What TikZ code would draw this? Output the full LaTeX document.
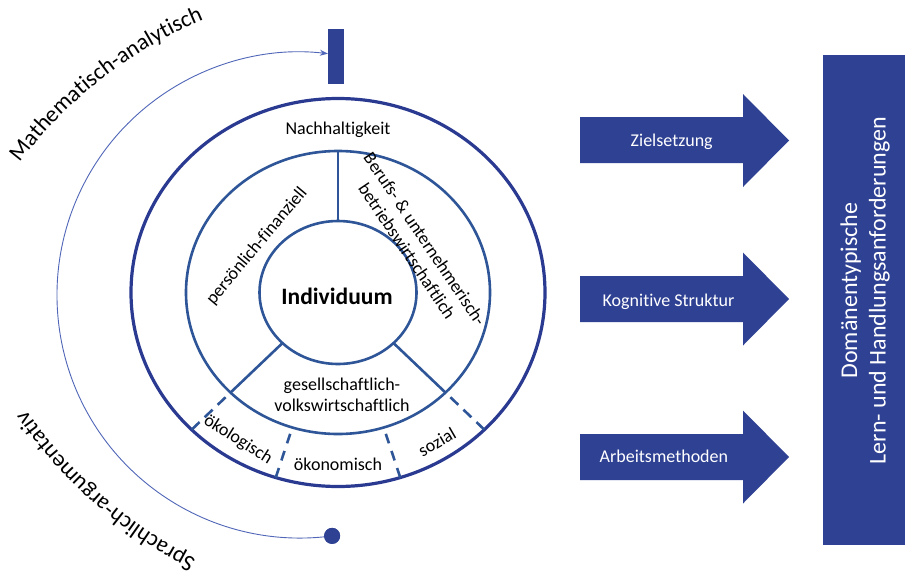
\documentclass[tikz,border=0pt]{standalone}
\usepackage{fontspec}
\setmainfont{Carlito}[Ligatures=CommonOff]
\usetikzlibrary{arrows.meta,decorations.text}
\definecolor{fillblue}{RGB}{47,65,147}
\definecolor{outerblue}{RGB}{42,58,145}
\definecolor{ringblue}{RGB}{46,85,151}
\definecolor{arcblue}{RGB}{80,102,184}
\newcommand\ringfont{\fontsize{18}{21.5}\selectfont}
\newcommand\arrowfont{\fontsize{18}{21}\selectfont}
\newcommand\arcfont{\fontsize{23}{27}\selectfont}
\newcommand\bigfont{\fontsize{24}{28.5}\selectfont}
\newcommand\corefont{\fontsize{23.5}{27}\selectfont\bfseries}
\begin{document}
\begin{tikzpicture}[x=1pt,y=-1pt,
  ringline/.style={draw=ringblue, line width=2.6pt},
  outerline/.style={draw=outerblue, line width=3.2pt},
  sepdash/.style={draw=ringblue, line width=2.6pt, dash pattern=on 11pt off 7pt},
  ringlabel/.style={font=\ringfont, align=center, inner sep=0pt},
  arrowshape/.style={fill=fillblue},
  arrowlabel/.style={font=\arrowfont, text=white, inner sep=0pt, anchor=base west},
  thinarc/.style={draw=arcblue, line width=0.9pt},
]
\useasboundingbox (0,0) rectangle (905,576);
\fill[white] (0,0) rectangle (905,576);

% ring geometry
\coordinate (c) at (338,292.5);
\draw[outerline] (c) ellipse[x radius=207, y radius=194];
\draw[ringline] (c) ellipse[x radius=152, y radius=141.5];
\draw[ringline] (c) ellipse[x radius=78.5, y radius=71.5];

\path (c) ++(270:152 and 141.5) coordinate (mtop);
\path (c) ++(270:78.5 and 71.5) coordinate (itop);
\path (c) ++(135:78.5 and 71.5) coordinate (i135);
\path (c) ++(135:152 and 141.5) coordinate (m135);
\path (c) ++(135:207 and 194) coordinate (o135);
\path (c) ++(45:78.5 and 71.5) coordinate (i45);
\path (c) ++(45:152 and 141.5) coordinate (m45);
\path (c) ++(45:207 and 194) coordinate (o45);
\path (c) ++(107.5:152 and 141.5) coordinate (m107);
\path (c) ++(107.5:207 and 194) coordinate (o107);
\path (c) ++(72.5:152 and 141.5) coordinate (m73);
\path (c) ++(72.5:207 and 194) coordinate (o73);

\draw[ringline] (mtop) -- (itop);
\draw[ringline] (i135) -- (m135);
\draw[ringline] (i45) -- (m45);
\draw[sepdash] (o135) -- (m135);
\draw[sepdash] (o45) -- (m45);
\draw[sepdash,dash pattern=on 10pt off 8pt] (o107) -- (m107);
\draw[sepdash,dash pattern=on 10pt off 8pt] (o73) -- (m73);

% ring labels
\node[font=\corefont, inner sep=0pt] (indiv) at (337,296) {Individuum};
\node[ringlabel] (nach) at (338,130) {Nachhaltigkeit};
\node[ringlabel, rotate=50] (pers) at (257,246) {persönlich-finanziell};
\node[ringlabel, rotate=-56] (beruf) at (416,245) {Berufs- \& unternehmerisch-\\betriebswirtschaftlich};
\node[ringlabel] (gesell) at (342,395) {gesellschaftlich-\\volkswirtschaftlich};
\node[ringlabel, rotate=-32] (oeko) at (238,440) {ökologisch};
\node[ringlabel] (oekon) at (338,464) {ökonomisch};
\node[ringlabel, rotate=30] (sozial) at (437,442) {sozial};

% thin arc with bar and dot
\node[fill=fillblue, minimum width=16pt, minimum height=55pt, inner sep=0pt] (bar) at (336,56.5) {};
\node[circle, fill=fillblue, minimum size=16pt, inner sep=0pt] (dot) at (332.1,535.9) {};
\draw[thinarc, -{Stealth[length=8pt,width=6pt]}] (dot.center) arc[start angle=82.4, end angle=276.6, radius=243];
\node[circle, fill=fillblue, minimum size=16pt, inner sep=0pt] at (dot) {};

% curved texts
\path[decorate, decoration={text along path, text align=center,
  text={|\arcfont|Mathematisch-analytisch}}]
  (378,434.5) ++(207.2:450) arc[start angle=207.2, end angle=257.2, radius=450];
\path[decorate, decoration={text along path, text align=center,
  text={|\arcfont|Sprachlich-argumentativ}}]
  (398.6,157.3) ++(106.3:450) arc[start angle=106.3, end angle=156.3, radius=450];

% arrows
\fill[arrowshape] (580,117) -- (743,117) -- (743,94) -- (789,140.5) -- (743,187) -- (743,163) -- (580,163) -- cycle;
\fill[arrowshape] (580,276) -- (743,276) -- (743,252.5) -- (789,299) -- (743,345.5) -- (743,322) -- (580,322) -- cycle;
\fill[arrowshape] (580,434) -- (743,434) -- (743,410.5) -- (789,457) -- (743,503.5) -- (743,480) -- (580,480) -- cycle;
\node[arrowlabel] (ziel) at (630.5,146) {Zielsetzung};
\node[arrowlabel] (kogn) at (602.5,306) {Kognitive Struktur};
\node[arrowlabel] (arb) at (599.5,462) {Arbeitsmethoden};

% big box
\fill[arrowshape] (823,55) rectangle (905,545);
\node[rotate=90, align=center, text=white, font=\bigfont, inner sep=0pt] (dom) at (865,290.5) {Domänentypische\\Lern- und Handlungsanforderungen};
\end{tikzpicture}
\end{document}
